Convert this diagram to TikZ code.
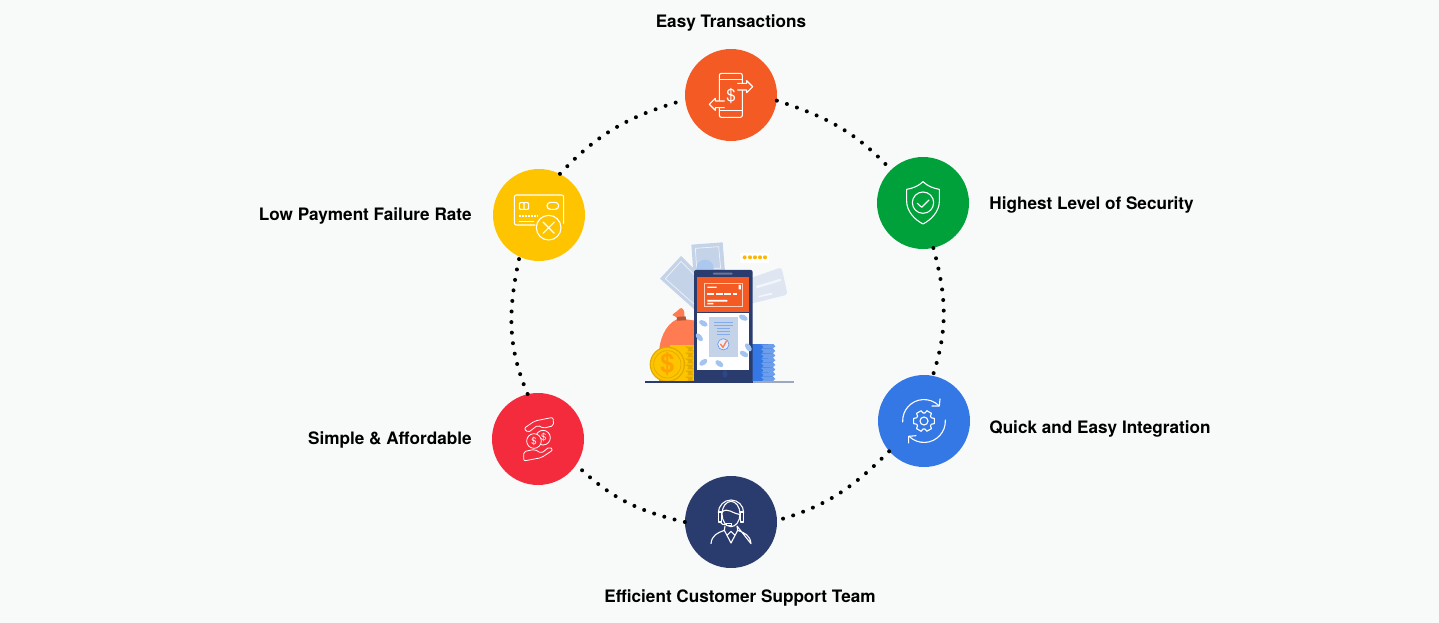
\documentclass[tikz,border=0pt]{standalone}
\usepackage{fontspec}
\setmainfont{TeX Gyre Heros}
\usetikzlibrary{positioning}
\definecolor{pagebg}{HTML}{F8FAFA}
\definecolor{easyorange}{HTML}{F45B24}
\definecolor{safegreen}{HTML}{00A13A}
\definecolor{quickblue}{HTML}{3478E5}
\definecolor{teamnavy}{HTML}{2A3B6D}
\definecolor{simplered}{HTML}{F42B3C}
\definecolor{lowyellow}{HTML}{FFC400}
\definecolor{notegrey}{HTML}{C5D3E8}
\definecolor{cardgrey}{HTML}{DFE6F2}
\definecolor{ovalblue}{HTML}{A3C3F0}
\definecolor{bagorange}{HTML}{FF7B51}
\definecolor{coingold}{HTML}{FDC500}
\definecolor{coindark}{HTML}{E3A900}
\tikzset{
  badge/.style = {shape=circle, minimum size=92pt, inner sep=0pt, fill=#1},
  caption/.style = {inner sep=0pt, font=\fontsize{17.15}{20}\selectfont\bfseries},
  ringdots/.style = {line width=4pt, line cap=round, dash pattern=on 0pt off 10.6pt},
  iconline/.style = {draw=white, line width=1.1pt, line join=round, line cap=round},
  zoomed/.style = {shift={(#1)}, x=.3333pt, y=-.3333pt}
}
\begin{document}
\begin{tikzpicture}[x=1pt, y=-1pt]
  \useasboundingbox (0,0) rectangle (1439,623);
  \fill[pagebg] (0,0) rectangle (1439,623);

  % the six badges
  \node[badge=easyorange] (easy) at (731,95) {};
  \node[badge=safegreen] (safe) at (923,203) {};
  \node[badge=quickblue] (quick) at (924,421) {};
  \node[badge=teamnavy] (team) at (731,522) {};
  \node[badge=simplered] (simple) at (538,439) {};
  \node[badge=lowyellow] (low) at (539,215) {};

  \draw[ringdots] (easy.-7) to[out=-18, in=133] (safe.134);
  \draw[ringdots] (safe.-77) to[out=-75, in=72] (quick.79);
  \draw[ringdots] (quick.221) to[out=-135, in=16] (team.2);
  \draw[ringdots] (team.180) to[out=167, in=-44] (simple.-34);
  \draw[ringdots] (simple.103) to[out=113, in=258] (low.-115);
  \draw[ringdots] (low.63) to[out=47, in=196] (easy.186);

  % captions
  \node[caption, above=17pt of easy] (easylabel) {Easy Transactions};
  \node[caption, right=20pt of safe, yshift=-1.5pt] (safelabel) {Highest Level of Security};
  \node[caption, right=19pt of quick, yshift=-7.5pt] (quicklabel) {Quick and Easy Integration};
  \node[caption, below=67.5pt of team.center, xshift=9pt] (teamlabel) {Efficient Customer Support Team};
  \node[caption, left=20pt of simple, yshift=-.5pt] (simplelabel) {Simple \& Affordable};
  \node[caption, left=21pt of low, yshift=-1pt] (lowlabel) {Low Payment Failure Rate};

  % phone with arrows
  \begin{scope}[zoomed=easy]
    \draw[iconline, rounded corners=2pt] (-35,-65) rectangle (34,67);
    \draw[iconline] (-35,-47) -- (34,-47) (-35,47) -- (34,47);
    \draw[iconline, fill=easyorange] (20,-35) -- (47,-35) -- (47,-43) -- (65,-25) -- (47,-7) -- (47,-15) -- (20,-15);
    \draw[iconline, fill=easyorange] (-20,18) -- (-47,18) -- (-47,10) -- (-65,28) -- (-47,46) -- (-47,38) -- (-20,38);
    \node[text=white, inner sep=0pt, font=\fontsize{17}{17}\selectfont] (easysign) at (0,2) {\$};
  \end{scope}

  % shield
  \begin{scope}[zoomed=safe]
    \draw[iconline] (0,-64) .. controls (14,-50) and (32,-44) .. (49,-41) -- (49,-5) .. controls (49,25) and (25,50) .. (0,63) .. controls (-25,50) and (-49,25) .. (-49,-5) -- (-49,-41) .. controls (-32,-44) and (-14,-50) .. (0,-64) -- cycle;
    \draw[iconline] (0,-1) circle (32);
    \draw[iconline] (-17,1) -- (-4,13) -- (18,-9);
  \end{scope}

  % gear with two round arrows
  \begin{scope}[zoomed=quick]
    \foreach \a in {0,60,...,300}
      \draw[iconline] (\a-14:32) -- (\a+14:32) -- (\a+24:24) -- (\a+36:24) -- (\a+46:32);
    \draw[iconline] (0,0) circle (12);
    \draw[iconline] (-64,3) arc[start angle=177, end angle=315, radius=64];
    \draw[iconline] (64,-3) arc[start angle=-3, end angle=135, radius=64];
    \draw[iconline] (24,-45) -- (46,-45) -- (48,-66);
    \draw[iconline] (-24,44) -- (-46,46) -- (-46,66);
  \end{scope}

  % agent with headset
  \begin{scope}[zoomed=team]
    \draw[iconline] (0,-24) ellipse (27 and 38);
    \draw[iconline] (-38,-28) arc[start angle=180, end angle=360, radius=38];
    \draw[iconline, fill=teamnavy] (-38,-30) rectangle (-28,0) (28,-30) rectangle (38,0);
    \draw[iconline] (-27,-30) .. controls (-10,-45) and (5,-25) .. (27,-22);
    \draw[iconline] (-33,0) .. controls (-30,8) and (-22,8) .. (-12,8);
    \draw[iconline, fill=teamnavy] (-14,4) rectangle (2,11);
    \draw[iconline] (-60,65) .. controls (-58,40) and (-40,32) .. (-20,25) -- (-18,12) (18,12) -- (20,25) .. controls (40,32) and (58,40) .. (60,65) -- cycle;
    \draw[iconline] (-20,25) -- (0,63) -- (20,25) (-10,38) -- (0,28) -- (10,38);
  \end{scope}

  % hands and coins
  \begin{scope}[zoomed=simple, iconline/.append style={line width=.8pt}]
    \draw[iconline, rounded corners=2pt] (45,-65) -- (47,-40) -- (15,-32) -- (0,-42) -- (-30,-19) -- (-42,-32) -- (-10,-54) -- cycle;
    \draw[iconline, rounded corners=2pt] (-43,38) -- (-10,31) -- (10,43) -- (35,23) -- (45,33) -- (10,56) -- (-43,66) -- cycle;
    \draw[iconline] (15,-4) circle (22);
    \draw[iconline, fill=simplered] (-12,6) circle (22);
    \node[text=white, inner sep=0pt, font=\fontsize{9.5}{10}\selectfont] (simplesign) at (-12,6) {\$};
    \node[text=white, inner sep=0pt, font=\fontsize{9.5}{10}\selectfont] (simplesigntwo) at (17,-4) {\$};
  \end{scope}

  % card with cross
  \begin{scope}[zoomed=low]
    \draw[iconline, rounded corners=2pt] (-12,30) -- (-74,30) -- (-74,-60) -- (74,-60) -- (74,25);
    \draw[iconline, rounded corners=1pt] (-59,-37) rectangle (-31,-17) (-45,-37) -- (-45,-17);
    \draw[iconline, rounded corners=3.4pt] (24,-38) rectangle (59,-17);
    \draw[iconline, dash pattern=on 2pt off 1pt, line cap=butt, line width=2pt] (-59,3) -- (-3,3);
    \draw[iconline] (-59,20) -- (-16,20);
    \draw[iconline, fill=lowyellow] (29,38) circle (37);
    \draw[iconline] (12,21) -- (46,55) (12,55) -- (46,21);
  \end{scope}

  % phone illustration in the middle
  \begin{scope}[shift={(630,200)}, x=.3333pt, y=-.3333pt]
    \fill[notegrey] (184,134) -- (278,127) -- (285,215) -- (190,215) -- cycle;
    \draw[white!70!notegrey, line width=.7pt] (196,145) -- (266,140) -- (272,205) -- (200,205) -- cycle;
    \fill[notegrey] (90,236) -- (153,168) -- (195,210) -- (195,330) -- cycle;
    \draw[white!70!notegrey, line width=.7pt] (106,236) -- (153,184) -- (195,226) (106,236) -- (195,315);
    \fill[ovalblue!70!notegrey] (225,205) circle (26);
    \fill[cardgrey] (360,235) -- (445,205) .. controls (452,203) and (455,206) .. (457,212) -- (471,276) .. controls (472,282) and (468,284) .. (464,286) -- (360,312) -- cycle;
    \fill[white!60!cardgrey] (378,258) -- (452,236) -- (453,243) -- (380,265) -- cycle;
    \fill[white!60!cardgrey] (385,288) -- (425,278) -- (426,284) -- (386,292) -- cycle;
    \fill[white] (330,158) rectangle (417,190);
    \foreach \sx in {344,360,375,390,405}
      \fill[coingold!80!orange] (\sx,172) circle (6);
    % bag
    \fill[bagorange] (140,358) .. controls (105,375) and (88,420) .. (87,460) -- (87,546) -- (195,546) -- (195,362) -- (168,358) -- cycle;
    \fill[bagorange] (127,345) .. controls (135,335) and (145,335) .. (150,325) .. controls (158,320) and (166,335) .. (163,350) -- (140,352) -- cycle;
    \fill[bagorange!70!black] (140,351) -- (167,349) -- (168,361) -- (141,362) -- cycle;
    % stacks
    \fill[quickblue] (362,432) rectangle (428,544);
    \foreach \sy in {432,446,...,530}
      \fill[ovalblue!50!quickblue] (392,\sy+2) -- (430,\sy) -- (436,\sy+7) -- (428,\sy+14) -- (396,\sy+14) -- (401,\sy+8) -- cycle;
    \fill[coingold] (120,435) rectangle (195,546);
    \foreach \sy in {440,458,...,530}
      \fill[coindark] (165,\sy) -- (190,\sy) -- (186,\sy+8) -- (192,\sy+14) -- (172,\sy+14) -- (176,\sy+7) -- cycle;
    \fill[coindark] (112,493) circle (53);
    \fill[coingold] (112,493) circle (49);
    \draw[coindark, line width=.7pt] (112,493) circle (41);
    \node[text=coingold!50!orange, inner sep=0pt, font=\fontsize{26}{26}\selectfont\bfseries] (coinsign) at (112,493) {\$};
    % phone
    \fill[teamnavy, rounded corners=2pt] (192,210) rectangle (368,546);
    \fill[teamnavy!70!white, rounded corners=1pt] (248,218) rectangle (308,224);
    \fill[easyorange] (202,232) rectangle (358,336);
    \fill[white] (202,338) rectangle (358,510);
    \draw[white!70!easyorange, line width=.7pt] (223,250) rectangle (338,320);
    \fill[white] (232,260) rectangle (260,264) (232,300) rectangle (292,305) (232,309) rectangle (250,313) (326,255) rectangle (333,268);
    \draw[white, line width=1.8pt, dash pattern=on 7pt off 1.5pt] (232,281) -- (320,281);
    % receipt
    \fill[notegrey] (238,352) rectangle (324,470);
    \draw[ovalblue!70!quickblue, line width=.8pt] (252,368) -- (310,368) (252,376) -- (310,376) (262,386) -- (300,386) (262,394) -- (300,394) (262,403) -- (300,403);
    \fill[white!60!notegrey] (280,433) circle (17);
    \draw[quickblue!80!white, line width=.6pt] (280,433) circle (17);
    \draw[bagorange, line width=1.3pt] (271,432) -- (279,442) -- (290,422);
    % blue ovals
    \foreach \ox/\oy/\rot in {340/353/25, 220/370/30, 208/412/50, 355/442/55, 342/462/30, 220/487/-35, 268/491/35}
      \fill[ovalblue, shift={(\ox,\oy)}, rotate=-\rot] (0,0) ellipse (14 and 8);
    \fill[teamnavy!80!quickblue] (285,522) ellipse (8 and 11);
    % floor
    \fill[teamnavy!45!white] (45,544) rectangle (492,549);
    \fill[teamnavy] (45,544) rectangle (368,549);
  \end{scope}
\end{tikzpicture}
\end{document}
